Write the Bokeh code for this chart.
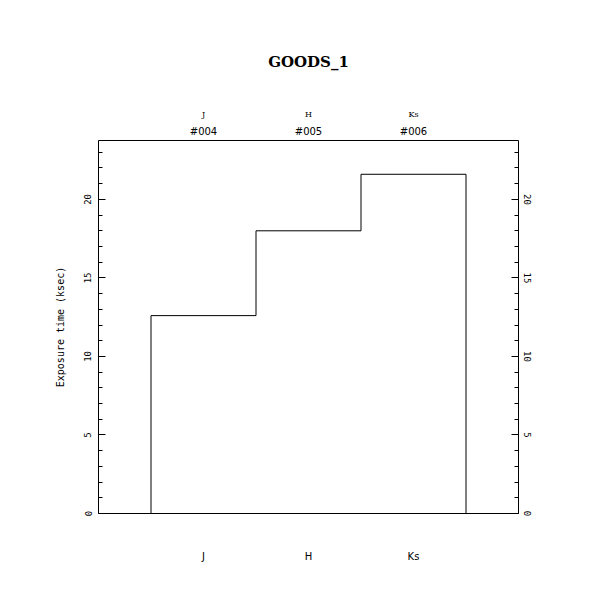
from bokeh.plotting import figure
from bokeh.models import (LinearAxis, FixedTicker, Range1d, Title)
from bokeh.embed import file_html
from bokeh.resources import INLINE

# ---- data ----
bands = ["J", "H", "Ks"]
frame_ids = ["#004", "#005", "#006"]
exposure_ksec = [12.6, 18.0, 21.6]
y_major = [0, 5, 10, 15, 20]
y_minor = list(range(0, 24))
title_text = "GOODS_1"
y_label = "Exposure time (ksec)"

positions = list(range(1, len(bands) + 1))

W, H = 595, 595
p = figure(width=W, height=H, output_backend="svg", toolbar_location=None,
           x_range=Range1d(0, len(bands) + 1), y_range=Range1d(0, 23.75),
           min_border_left=98, min_border_right=77, min_border_top=140,
           min_border_bottom=82, x_axis_location=None, y_axis_location=None)
p.grid.visible = False
p.outline_line_color = "black"
p.outline_line_width = 1
p.background_fill_color = "white"
p.border_fill_color = "white"

# step outline built from the data
xs, ys = [], []
for i, (c, v) in enumerate(zip(positions, exposure_ksec)):
    if i == 0:
        xs.append(c - 0.5); ys.append(0)
    xs.append(c - 0.5); ys.append(v)
    xs.append(c + 0.5); ys.append(v)
xs.append(positions[-1] + 0.5); ys.append(0)
p.line(xs, ys, line_color="black", line_width=1)

mono = "DejaVu Sans Mono"
serif = "DejaVu Serif"

def yaxis(label=None, standoff=7):
    ax = LinearAxis(ticker=FixedTicker(ticks=y_major, minor_ticks=y_minor))
    ax.major_tick_in = 7
    ax.major_tick_out = 0
    ax.minor_tick_in = 4
    ax.minor_tick_out = 0
    ax.axis_line_color = None
    ax.major_tick_line_color = "black"
    ax.minor_tick_line_color = "black"
    ax.major_label_orientation = "vertical"
    ax.major_label_text_font = mono
    ax.major_label_text_font_size = "9px"
    ax.major_label_standoff = standoff
    ax.major_label_text_color = "black"
    if label:
        ax.axis_label = label
        ax.axis_label_text_font = mono
        ax.axis_label_text_font_style = "normal"
        ax.axis_label_text_font_size = "10px"
        ax.axis_label_standoff = 16
        ax.axis_label_text_color = "black"
    return ax

p.add_layout(yaxis(y_label, 7), "left")
p.add_layout(yaxis(None, 5), "right")

def xaxis(labels, font, size, standoff):
    ax = LinearAxis(ticker=FixedTicker(ticks=positions, minor_ticks=[]))
    ax.major_label_overrides = {pos: lab for pos, lab in zip(positions, labels)}
    ax.major_tick_in = 0
    ax.major_tick_out = 0
    ax.minor_tick_in = 0
    ax.minor_tick_out = 0
    ax.axis_line_color = None
    ax.major_tick_line_color = None
    ax.major_label_text_font = font
    ax.major_label_text_font_size = size
    ax.major_label_standoff = standoff
    ax.major_label_text_color = "black"
    return ax

p.add_layout(xaxis(bands, "DejaVu Sans", "10px", 37), "below")
p.add_layout(xaxis(frame_ids, "DejaVu Sans", "10px", 4), "above")
p.add_layout(xaxis(bands, serif, "8px", 4), "above")

t = Title(text=title_text, align="center", text_font=serif,
          text_font_size="15px", text_font_style="bold",
          text_color="black", standoff=71)
p.add_layout(t, "above")

open("out.html", "w").write(file_html(p, INLINE))
